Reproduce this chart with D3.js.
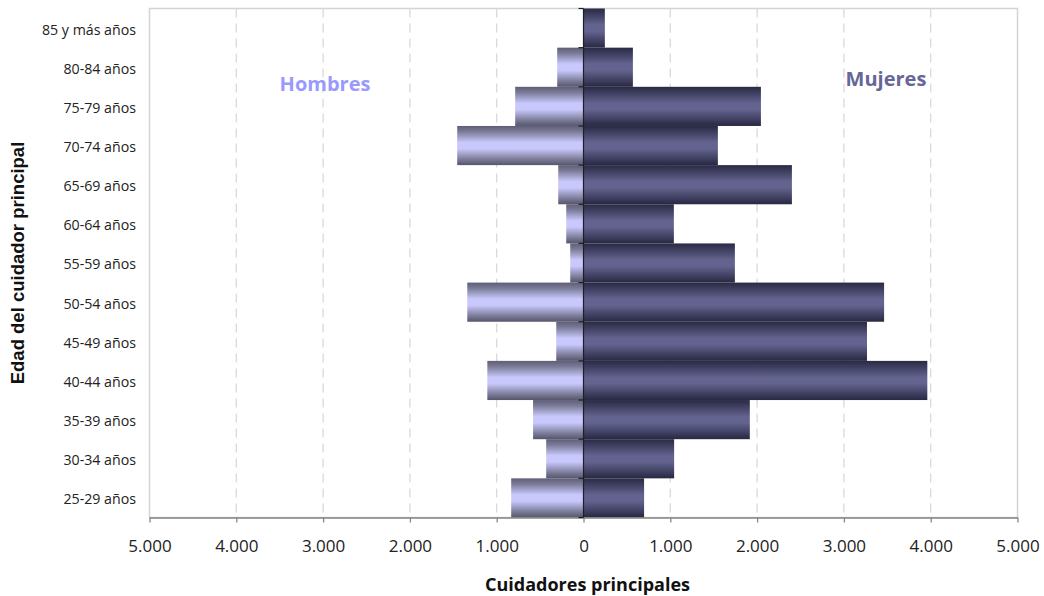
<!DOCTYPE html>
<html>
<head>
<meta charset="utf-8">
<script src="https://cdn.jsdelivr.net/npm/d3@7"></script>
<style>
html,body{margin:0;padding:0;background:#fff;}
svg{display:block;}
</style>
</head>
<body>
<svg id="chart" width="1044" height="596"></svg>
<script>
const categories = ["85 y más años","80-84 años","75-79 años","70-74 años","65-69 años","60-64 años","55-59 años","50-54 años","45-49 años","40-44 años","35-39 años","30-34 años","25-29 años"];
const hombres = [0, 303, 787, 1455, 291, 199, 153, 1339, 314, 1108, 581, 430, 833];
const mujeres = [246, 569, 2044, 1548, 2401, 1041, 1744, 3463, 3266, 3961, 1916, 1044, 698];
const tickValues = [-5000,-4000,-3000,-2000,-1000,0,1000,2000,3000,4000,5000];

const FONT = "'Open Sans', Lato, sans-serif";
const svg = d3.select("#chart");
const m = {left:149.5, right:1017.5, top:8.5, bottom:517.5};
const fmt = v => d3.format(",")(Math.abs(v)).replace(/,/g,".");

const x = d3.scaleLinear().domain([-5000,5000]).range([m.left, m.right]);
const y = d3.scaleBand().domain(categories).range([m.top, m.bottom]).padding(0);

const defs = svg.append("defs");
const gm = defs.append("linearGradient").attr("id","gMen").attr("x1",0).attr("y1",0).attr("x2",0).attr("y2",1);
[[0,"#5e5e78"],[0.15,"#7c7c99"],[0.42,"#c8c8fc"],[0.58,"#c8c8fc"],[0.85,"#7c7c99"],[1,"#55556c"]].forEach(s=>gm.append("stop").attr("offset",s[0]).attr("stop-color",s[1]));
const gw = defs.append("linearGradient").attr("id","gWomen").attr("x1",0).attr("y1",0).attr("x2",0).attr("y2",1);
[[0,"#2a2a45"],[0.15,"#3d3d5e"],[0.42,"#63638f"],[0.58,"#63638f"],[0.85,"#3d3d5e"],[1,"#282842"]].forEach(s=>gw.append("stop").attr("offset",s[0]).attr("stop-color",s[1]));

// plot border
svg.append("rect").attr("x",m.left).attr("y",m.top).attr("width",m.right-m.left).attr("height",m.bottom-m.top)
  .attr("fill","none").attr("stroke","#d4d4d4").attr("stroke-width",1.5);

// gridlines
svg.append("g").selectAll("line").data(tickValues.filter(v=>v!==0 && Math.abs(v)!==5000)).join("line")
  .attr("x1",d=>x(d)).attr("x2",d=>x(d)).attr("y1",m.top).attr("y2",m.bottom)
  .attr("stroke","#d9d9d9").attr("stroke-width",1.3).attr("stroke-dasharray","9,6");

// bars
svg.append("g").selectAll("rect").data(categories).join("rect")
  .attr("x",(d,i)=>x(-hombres[i])).attr("y",d=>y(d))
  .attr("width",(d,i)=>x(0)-x(-hombres[i])).attr("height",y.bandwidth())
  .attr("fill","url(#gMen)");
svg.append("g").selectAll("rect").data(categories).join("rect")
  .attr("x",x(0)).attr("y",d=>y(d))
  .attr("width",(d,i)=>x(mujeres[i])-x(0)).attr("height",y.bandwidth())
  .attr("fill","url(#gWomen)");

// x axis
const xAxis = svg.append("g").attr("transform",`translate(0,${m.bottom})`)
  .call(d3.axisBottom(x).tickValues(tickValues).tickFormat(fmt).tickSizeInner(5).tickSizeOuter(0).tickPadding(17));
xAxis.select(".domain").attr("stroke","#868686").attr("stroke-width",1.5);
xAxis.selectAll(".tick line").attr("stroke","#868686").attr("stroke-width",1.3);
xAxis.selectAll("text").attr("font-family",FONT).attr("font-size",17).attr("fill","#222");

// y axis at zero
const yAxisG = svg.append("g").attr("transform",`translate(${x(0)},0)`);
yAxisG.append("line").attr("x1",0).attr("x2",0).attr("y1",m.top).attr("y2",m.bottom).attr("stroke","#1e1e2a").attr("stroke-width",1.2);
const bounds = d3.range(categories.length+1).map(i=>m.top + i*y.step());
yAxisG.selectAll(".yt").data(bounds).join("line").attr("class","yt")
  .attr("x1",-5).attr("x2",0).attr("y1",d=>d).attr("y2",d=>d).attr("stroke","#1e1e2a").attr("stroke-width",1.2);

// category labels on left
svg.append("g").selectAll("text").data(categories).join("text")
  .attr("x",136).attr("y",d=>y(d)+y.bandwidth()/2+1.5).attr("dy","0.35em")
  .attr("text-anchor","end").attr("font-family",FONT).attr("font-size",14.2).attr("fill","#222")
  .text(d=>d);

// series labels
svg.append("text").attr("x",325).attr("y",91).attr("text-anchor","middle")
  .attr("font-family",FONT).attr("font-weight","bold").attr("font-size",20).attr("fill","#9999ff").text("Hombres");
svg.append("text").attr("x",886).attr("y",86).attr("text-anchor","middle")
  .attr("font-family",FONT).attr("font-weight","bold").attr("font-size",20).attr("fill","#666699").text("Mujeres");

// axis titles
svg.append("text").attr("x",x(0)+4).attr("y",591).attr("text-anchor","middle")
  .attr("font-family",FONT).attr("font-weight","bold").attr("font-size",18).attr("fill","#111").text("Cuidadores principales");
svg.append("text").attr("transform","translate(24,263) rotate(-90)").attr("text-anchor","middle")
  .attr("font-family","'Liberation Sans', Arial, sans-serif").attr("font-weight","bold").attr("font-size",18.5).attr("fill","#111").text("Edad del cuidador principal");
</script>
</body>
</html>
